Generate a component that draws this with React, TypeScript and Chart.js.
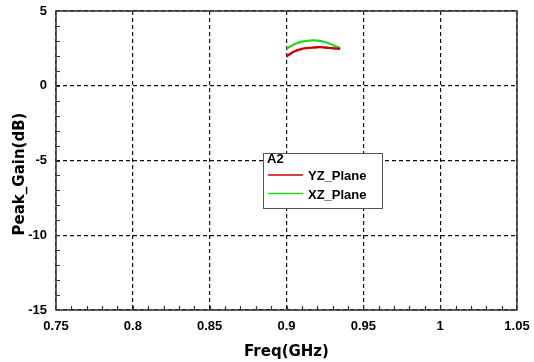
import React, { useEffect, useRef } from 'react';
import { Chart, registerables } from 'chart.js';

Chart.register(...registerables);

// ---- data ----
const freqs = [0.9, 0.905, 0.91, 0.915, 0.92, 0.925, 0.93, 0.935];
const yzPlane = [1.96, 2.29, 2.47, 2.53, 2.58, 2.56, 2.51, 2.47];
const xzPlane = [2.47, 2.78, 2.95, 3.02, 3.02, 2.93, 2.73, 2.51];

const seriesNames = ['YZ_Plane', 'XZ_Plane'];
const legendTitle = 'A2';

const xTickValues = [0.75, 0.8, 0.85, 0.9, 0.95, 1.0, 1.05];
const xTickLabels = ['0.75', '0.8', '0.85', '0.9', '0.95', '1', '1.05'];
const yTickValues = [-15, -10, -5, 0, 5];
const yTickLabels = ['-15', '-10', '-5', '0', '5'];

const xTitle = 'Freq(GHz)';
const yTitle = 'Peak_Gain(dB)';

const X_MIN = 0.75;
const X_MAX = 1.05;
const Y_MIN = -15;
const Y_MAX = 5;
const X_MINOR = 0.01;
const Y_MINOR = 1;

const TICK_FONT = { family: '"Liberation Sans", Arial, sans-serif', size: 13, weight: 'bold' as const };

function zeroPadding(s: any) {
  s.paddingLeft = 0;
  s.paddingRight = 0;
  s.paddingTop = 0;
  s.paddingBottom = 0;
}

export default function App() {
  const ref = useRef<HTMLCanvasElement>(null);

  useEffect(() => {
    const canvas = ref.current;
    if (!canvas) return;

    const decor = {
      id: 'decor',
      afterDraw(chart: any) {
        const { ctx, chartArea } = chart;
        const xs = chart.scales.x;
        const ys = chart.scales.y;
        const { left, right, top, bottom } = chartArea;
        ctx.save();

        // minor ticks (inside, bottom and left)
        ctx.strokeStyle = '#333';
        ctx.lineWidth = 1.2;
        ctx.beginPath();
        const nX = Math.round((X_MAX - X_MIN) / X_MINOR);
        for (let i = 1; i < nX; i++) {
          const v = X_MIN + i * X_MINOR;
          const px = Math.round(xs.getPixelForValue(v)) + 0.5;
          ctx.moveTo(px, bottom);
          ctx.lineTo(px, bottom - 4);
        }
        const nY = Math.round((Y_MAX - Y_MIN) / Y_MINOR);
        for (let i = 1; i < nY; i++) {
          const v = Y_MIN + i * Y_MINOR;
          const py = Math.round(ys.getPixelForValue(v)) + 0.5;
          ctx.moveTo(left, py);
          ctx.lineTo(left + 4, py);
        }
        ctx.stroke();

        // frame
        ctx.strokeStyle = '#3a3a3a';
        ctx.lineWidth = 1.6;
        ctx.strokeRect(left, top, right - left, bottom - top);

        // legend box
        const lx = 263, ly = 153, lw = 119, lh = 55;
        ctx.fillStyle = '#fff';
        ctx.fillRect(lx, ly, lw, lh);
        ctx.strokeStyle = '#555';
        ctx.lineWidth = 1;
        ctx.strokeRect(lx + 0.5, ly + 0.5, lw, lh);
        ctx.font = 'bold 13px "Liberation Sans", Arial, sans-serif';
        ctx.fillStyle = '#000';
        ctx.textBaseline = 'middle';
        ctx.textAlign = 'left';
        ctx.fillText(legendTitle, 267, 159.5);
        chart.data.datasets.forEach((ds: any, i: number) => {
          const y = 176.5 + i * 18.5;
          ctx.strokeStyle = ds.borderColor;
          ctx.lineWidth = 1.5;
          ctx.beginPath();
          ctx.moveTo(268, y - 1.5);
          ctx.lineTo(303, y - 1.5);
          ctx.stroke();
          ctx.fillStyle = '#000';
          ctx.fillText(ds.label, 308, y);
        });

        // y axis title
        ctx.translate(20, 174);
        ctx.rotate(-Math.PI / 2);
        ctx.font = 'bold 15px "DejaVu Sans", sans-serif';
        ctx.textAlign = 'center';
        ctx.textBaseline = 'middle';
        ctx.fillStyle = '#000';
        ctx.fillText(yTitle, 0, 0);
        ctx.restore();
      },
    };

    const chart = new Chart(canvas, {
      type: 'line',
      data: {
        datasets: [
          {
            label: seriesNames[0],
            data: freqs.map((f, i) => ({ x: f, y: yzPlane[i] })),
            borderColor: '#d10000',
            borderWidth: 2.4,
            pointRadius: 0,
            tension: 0.4,
            fill: false,
          },
          {
            label: seriesNames[1],
            data: freqs.map((f, i) => ({ x: f, y: xzPlane[i] })),
            borderColor: '#22d822',
            borderWidth: 2.2,
            pointRadius: 0,
            tension: 0.4,
            fill: false,
          },
        ],
      },
      options: {
        responsive: false,
        animation: false,
        devicePixelRatio: 1,
        layout: { padding: { top: 11, right: 17, left: 0, bottom: 0 } },
        plugins: {
          legend: { display: false },
          tooltip: { enabled: false },
          title: { display: false },
        },
        scales: {
          x: {
            type: 'linear',
            min: X_MIN,
            max: X_MAX,
            afterBuildTicks: (s: any) => {
              s.ticks = xTickValues.map((v) => ({ value: v }));
            },
            afterFit: (s: any) => {
              s.height = 52;
              zeroPadding(s);
            },
            ticks: {
              callback: (_v: any, i: number) => xTickLabels[i],
              font: TICK_FONT,
              color: '#000',
              padding: 9,
              maxRotation: 0,
              autoSkip: false,
            },
            grid: { color: '#111', lineWidth: 1.2, drawTicks: false },
            border: { display: false, dash: [4, 3] },
            title: {
              display: true,
              text: xTitle,
              font: { family: '"DejaVu Sans", sans-serif', size: 15, weight: 'bold' },
              color: '#000',
              padding: { top: 0, bottom: 1 },
            },
          },
          y: {
            type: 'linear',
            min: Y_MIN,
            max: Y_MAX,
            afterBuildTicks: (s: any) => {
              s.ticks = yTickValues.map((v) => ({ value: v }));
            },
            afterFit: (s: any) => {
              s.width = 56;
              zeroPadding(s);
            },
            ticks: {
              callback: (_v: any, i: number) => yTickLabels[i],
              font: TICK_FONT,
              color: '#000',
              padding: 9,
              autoSkip: false,
            },
            grid: { color: '#111', lineWidth: 1.2, drawTicks: false },
            border: { display: false, dash: [4, 3] },
          },
        },
      },
      plugins: [decor],
    } as any);

    return () => chart.destroy();
  }, []);

  return (
    <div style={{ position: 'absolute', left: 0, top: 0, width: 534, height: 362, background: '#fff' }}>
      <canvas ref={ref} width={534} height={362} style={{ display: 'block' }} />
    </div>
  );
}
